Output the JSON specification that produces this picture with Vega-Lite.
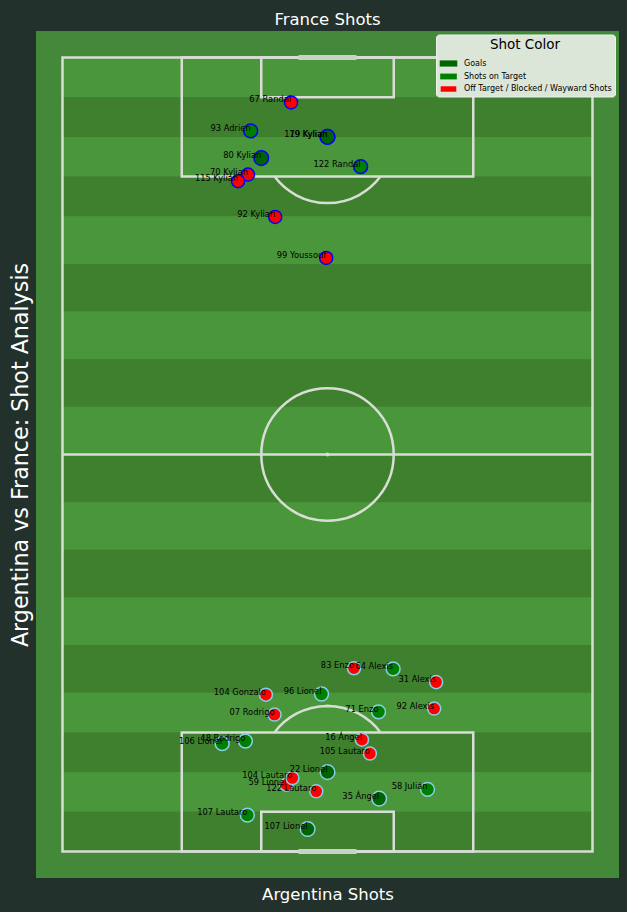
{
  "$schema": "https://vega.github.io/schema/vega-lite/v6.json",
  "autosize": "none",
  "width": 583,
  "height": 847,
  "padding": {"left": 36, "top": 31, "right": 8, "bottom": 34},
  "background": "#22312b",
  "config": {
    "font": "DejaVu Sans",
    "view": {"fill": "#44883a", "stroke": null},
    "axis": {
      "labels": false,
      "ticks": false,
      "domain": false,
      "grid": false,
      "titleColor": "#ffffff",
      "titleFontWeight": "normal",
      "titleFont": "DejaVu Sans"
    }
  },
  "title": {
    "text": "France Shots",
    "color": "#ffffff",
    "fontSize": 16.5,
    "fontWeight": "normal",
    "font": "DejaVu Sans",
    "anchor": "middle",
    "baseline": "alphabetic",
    "offset": 7,
    "dy": 17
  },
  "datasets": {
    "stripes": [
      {"x": 0, "x2": 80, "y": 0, "y2": 6, "shade": "light"},
      {"x": 0, "x2": 80, "y": 6, "y2": 12, "shade": "dark"},
      {"x": 0, "x2": 80, "y": 12, "y2": 18, "shade": "light"},
      {"x": 0, "x2": 80, "y": 18, "y2": 24, "shade": "dark"},
      {"x": 0, "x2": 80, "y": 24, "y2": 31.2, "shade": "light"},
      {"x": 0, "x2": 80, "y": 31.2, "y2": 38.4, "shade": "dark"},
      {"x": 0, "x2": 80, "y": 38.4, "y2": 45.6, "shade": "light"},
      {"x": 0, "x2": 80, "y": 45.6, "y2": 52.8, "shade": "dark"},
      {"x": 0, "x2": 80, "y": 52.8, "y2": 60, "shade": "light"},
      {"x": 0, "x2": 80, "y": 60, "y2": 67.2, "shade": "dark"},
      {"x": 0, "x2": 80, "y": 67.2, "y2": 74.4, "shade": "light"},
      {"x": 0, "x2": 80, "y": 74.4, "y2": 81.6, "shade": "dark"},
      {"x": 0, "x2": 80, "y": 81.6, "y2": 88.8, "shade": "light"},
      {"x": 0, "x2": 80, "y": 88.8, "y2": 96, "shade": "dark"},
      {"x": 0, "x2": 80, "y": 96, "y2": 102, "shade": "light"},
      {"x": 0, "x2": 80, "y": 102, "y2": 108, "shade": "dark"},
      {"x": 0, "x2": 80, "y": 108, "y2": 114, "shade": "light"},
      {"x": 0, "x2": 80, "y": 114, "y2": 120, "shade": "dark"}
    ],
    "lines": [
      {"x": 0, "x2": 80, "y": 0, "y2": 120},
      {"x": 18, "x2": 62, "y": 0, "y2": 18},
      {"x": 30, "x2": 50, "y": 0, "y2": 6},
      {"x": 18, "x2": 62, "y": 102, "y2": 120},
      {"x": 30, "x2": 50, "y": 114, "y2": 120},
      {"x": 0, "x2": 80, "y": 60, "y2": 60}
    ],
    "arcs": [
      {"x": 40, "y": 60, "t0": 0, "t1": 6.2832},
      {"x": 40, "y": 12, "t0": 2.2143, "t1": 4.0689},
      {"x": 40, "y": 108, "t0": -0.9273, "t1": 0.9273}
    ],
    "spots": [
      {"x": 40, "y": 60},
      {"x": 40, "y": 12},
      {"x": 40, "y": 108}
    ],
    "goals": [
      {"x": 36, "x2": 44, "y": 0},
      {"x": 36, "x2": 44, "y": 120}
    ],
    "shots": [
      {"label": "67 Randal", "team": "France", "outcome": "Off Target / Blocked / Wayward Shots", "x": 34.5, "y": 6.8},
      {"label": "93 Adrien", "team": "France", "outcome": "Shots on Target", "x": 28.4, "y": 11.1},
      {"label": "119 Kylian", "team": "France", "outcome": "Goals", "x": 40, "y": 12},
      {"label": "79 Kylian", "team": "France", "outcome": "Goals", "x": 40, "y": 12},
      {"label": "80 Kylian", "team": "France", "outcome": "Goals", "x": 30.0, "y": 15.2},
      {"label": "122 Randal", "team": "France", "outcome": "Shots on Target", "x": 45.0, "y": 16.5},
      {"label": "70 Kylian", "team": "France", "outcome": "Off Target / Blocked / Wayward Shots", "x": 28.0, "y": 17.7},
      {"label": "115 Kylian", "team": "France", "outcome": "Off Target / Blocked / Wayward Shots", "x": 26.5, "y": 18.7},
      {"label": "92 Kylian", "team": "France", "outcome": "Off Target / Blocked / Wayward Shots", "x": 32.1, "y": 24.1},
      {"label": "99 Youssouf", "team": "France", "outcome": "Off Target / Blocked / Wayward Shots", "x": 39.8, "y": 30.3},
      {"label": "83 Enzo", "team": "Argentina", "outcome": "Off Target / Blocked / Wayward Shots", "x": 44.0, "y": 92.3},
      {"label": "64 Alexis", "team": "Argentina", "outcome": "Shots on Target", "x": 49.9, "y": 92.4},
      {"label": "31 Alexis", "team": "Argentina", "outcome": "Off Target / Blocked / Wayward Shots", "x": 56.4, "y": 94.4},
      {"label": "104 Gonzalo", "team": "Argentina", "outcome": "Off Target / Blocked / Wayward Shots", "x": 30.7, "y": 96.3},
      {"label": "96 Lionel", "team": "Argentina", "outcome": "Shots on Target", "x": 39.1, "y": 96.2},
      {"label": "07 Rodrigo", "team": "Argentina", "outcome": "Off Target / Blocked / Wayward Shots", "x": 32.0, "y": 99.3},
      {"label": "71 Enzo", "team": "Argentina", "outcome": "Shots on Target", "x": 47.7, "y": 98.9},
      {"label": "92 Alexis", "team": "Argentina", "outcome": "Off Target / Blocked / Wayward Shots", "x": 56.1, "y": 98.4},
      {"label": "106 Lionel", "team": "Argentina", "outcome": "Shots on Target", "x": 24.1, "y": 103.7},
      {"label": "48 Rodrigo", "team": "Argentina", "outcome": "Shots on Target", "x": 27.6, "y": 103.3},
      {"label": "16 Ángel", "team": "Argentina", "outcome": "Off Target / Blocked / Wayward Shots", "x": 45.2, "y": 103.1},
      {"label": "105 Lautaro", "team": "Argentina", "outcome": "Off Target / Blocked / Wayward Shots", "x": 46.4, "y": 105.2},
      {"label": "22 Lionel", "team": "Argentina", "outcome": "Goals", "x": 40, "y": 108},
      {"label": "59 Lionel", "team": "Argentina", "outcome": "Off Target / Blocked / Wayward Shots", "x": 33.8, "y": 109.9},
      {"label": "104 Lautaro", "team": "Argentina", "outcome": "Off Target / Blocked / Wayward Shots", "x": 34.7, "y": 108.9},
      {"label": "122 Lautaro", "team": "Argentina", "outcome": "Off Target / Blocked / Wayward Shots", "x": 38.3, "y": 110.9},
      {"label": "35 Ángel", "team": "Argentina", "outcome": "Goals", "x": 47.8, "y": 112.0},
      {"label": "58 Julián", "team": "Argentina", "outcome": "Shots on Target", "x": 55.1, "y": 110.6},
      {"label": "107 Lautaro", "team": "Argentina", "outcome": "Shots on Target", "x": 27.9, "y": 114.5},
      {"label": "107 Lionel", "team": "Argentina", "outcome": "Goals", "x": 37.0, "y": 116.6}
    ]
  },
  "encoding": {
    "x": {
      "field": "x",
      "type": "quantitative",
      "scale": {"domain": [-4, 84], "nice": false, "zero": false},
      "axis": {
        "orient": "bottom",
        "title": "Argentina Shots",
        "titleFontSize": 16.5,
        "titleBaseline": "alphabetic",
        "titlePadding": 21
      }
    },
    "y": {
      "field": "y",
      "type": "quantitative",
      "scale": {"domain": [-4, 124], "nice": false, "zero": false, "reverse": true},
      "axis": {
        "orient": "left",
        "title": "Argentina vs France: Shot Analysis",
        "titleFontSize": 22.2,
        "titleBaseline": "alphabetic",
        "titlePadding": 9
      }
    }
  },
  "layer": [
    {
      "data": {"name": "stripes"},
      "mark": {"type": "rect", "strokeWidth": 0},
      "encoding": {
        "x2": {"field": "x2"},
        "y2": {"field": "y2"},
        "fill": {
          "field": "shade",
          "type": "nominal",
          "scale": {"domain": ["light", "dark"], "range": ["#4a963b", "#3e802e"]},
          "legend": null
        }
      }
    },
    {
      "data": {"name": "lines"},
      "mark": {"type": "rect", "filled": false, "color": "#d8ded6", "strokeWidth": 2.5},
      "encoding": {
        "x2": {"field": "x2"},
        "y2": {"field": "y2"}
      }
    },
    {
      "data": {"name": "arcs"},
      "mark": {"type": "arc", "fill": null, "stroke": "#d8ded6", "strokeWidth": 2.5, "radius": 66.2, "radius2": 66.2},
      "encoding": {
        "theta": {"field": "t0", "type": "quantitative", "scale": null, "stack": null},
        "theta2": {"field": "t1"}
      }
    },
    {
      "data": {"name": "spots"},
      "mark": {"type": "point", "filled": true, "shape": "circle", "color": "#d8ded6", "size": 18, "opacity": 1},
      "encoding": {}
    },
    {
      "data": {"name": "goals"},
      "mark": {"type": "rule", "color": "#c9d2c9", "strokeWidth": 5, "strokeCap": "square"},
      "encoding": {
        "x2": {"field": "x2"}
      }
    },
    {
      "data": {"name": "shots"},
      "mark": {"type": "point", "filled": true, "shape": "circle", "strokeWidth": 1.5, "opacity": 1},
      "encoding": {
        "color": {
          "field": "outcome",
          "type": "nominal",
          "scale": {
            "domain": ["Goals", "Shots on Target", "Off Target / Blocked / Wayward Shots"],
            "range": ["#006400", "#008000", "#ff0000"]
          },
          "legend": {
            "orient": "none",
            "legendX": 400,
            "legendY": 3.5,
            "title": "Shot Color",
            "titleFontSize": 13.5,
            "titleFontWeight": "normal",
            "titleColor": "#000000",
            "titleAnchor": "middle",
            "titlePadding": 5,
            "labelFontSize": 8,
            "labelColor": "#000000",
            "labelOffset": 8,
            "symbolType": "M-1.2,-0.42H1.2V0.42H-1.2Z",
            "symbolSize": 100,
            "symbolStrokeWidth": 0,
            "symbolOffset": 2,
            "rowPadding": 1.5,
            "padding": 3,
            "fillColor": "#dce6d8",
            "strokeColor": "#eef2ec",
            "cornerRadius": 3
          }
        },
        "stroke": {
          "field": "team",
          "type": "nominal",
          "scale": {"domain": ["France", "Argentina"], "range": ["#0000ff", "#87ceeb"]},
          "legend": null
        },
        "size": {
          "field": "outcome",
          "type": "ordinal",
          "scale": {
            "domain": ["Goals", "Shots on Target", "Off Target / Blocked / Wayward Shots"],
            "range": [215, 170, 100]
          },
          "legend": null
        }
      }
    },
    {
      "data": {"name": "shots"},
      "mark": {"type": "text", "align": "right", "baseline": "alphabetic", "fontSize": 8.3, "color": "#000000"},
      "encoding": {
        "text": {"field": "label", "type": "nominal"}
      }
    }
  ]
}
